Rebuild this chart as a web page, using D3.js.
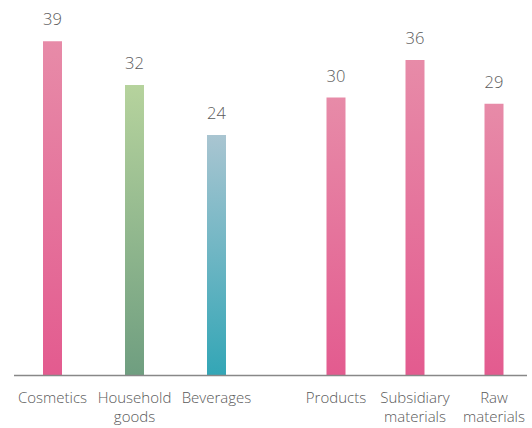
<!DOCTYPE html>
<html>
<head>
<meta charset="utf-8">
<script src="https://cdn.jsdelivr.net/npm/d3@7"></script>
<style>
  body { margin: 0; background: #fff; }
  text { font-family: "Open Sans", "Noto Sans", sans-serif; font-weight: 300; }
</style>
</head>
<body>
<div id="chart"></div>
<script>
// data
var groupA = ["Cosmetics", "Household\ngoods", "Beverages"];
var valuesA = [39, 32, 24];
var groupB = ["Products", "Subsidiary\nmaterials", "Raw\nmaterials"];
var valuesB = [30, 36, 29];
var gradA = [["#e78ba8", "#e35b8f"], ["#b6d39d", "#6f9e80"], ["#a9c5d1", "#33a6b6"]];
var gradB = [["#e78ba8", "#e35b8f"], ["#e78ba8", "#e35b8f"], ["#e78ba8", "#e35b8f"]];

var w = 532, h = 428;
var baseY = 375;

var svg = d3.select("#chart").append("svg")
  .attr("width", w)
  .attr("height", h);

// axis does not start at zero in the original
var y = d3.scaleLinear().domain([-14.4, 45]).range([baseY, baseY - 6.25 * 59.4]);

var xA = d3.scaleBand().domain(groupA).range([11.5, 257.5]).paddingInner(0.77).paddingOuter(0.385);
var xB = d3.scaleBand().domain(groupB).range([296.5, 533.5]).paddingInner(0.76).paddingOuter(0.38);

var defs = svg.append("defs");

function drawGroup(cats, vals, grads, x, key) {
  var rows = cats.map(function(c, i) { return {cat: c, v: vals[i], g: grads[i], id: key + i}; });

  rows.forEach(function(d) {
    var lg = defs.append("linearGradient").attr("id", d.id)
      .attr("x1", 0).attr("y1", 0).attr("x2", 0).attr("y2", 1);
    lg.append("stop").attr("offset", "0%").attr("stop-color", d.g[0]);
    lg.append("stop").attr("offset", "100%").attr("stop-color", d.g[1]);
  });

  var bw = 19;
  svg.selectAll(".bar" + key)
    .data(rows)
    .enter()
    .append("rect")
    .attr("x", function(d) { return x(d.cat) + x.bandwidth() / 2 - bw / 2; })
    .attr("y", function(d) { return y(d.v); })
    .attr("width", bw)
    .attr("height", function(d) { return baseY - y(d.v); })
    .attr("fill", function(d) { return "url(#" + d.id + ")"; });

  svg.selectAll(".val" + key)
    .data(rows)
    .enter()
    .append("text")
    .attr("x", function(d) { return x(d.cat) + x.bandwidth() / 2; })
    .attr("y", function(d) { return y(d.v) - 16; })
    .attr("text-anchor", "middle")
    .attr("font-size", 16.5)
    .attr("fill", "#5a5a5a")
    .text(function(d) { return d.v; });

  var lbl = svg.selectAll(".lbl" + key)
    .data(rows)
    .enter()
    .append("text")
    .attr("text-anchor", "middle")
    .attr("font-size", 15)
    .attr("fill", "#595959");
  lbl.each(function(d) {
    var t = d3.select(this);
    d.cat.split("\n").forEach(function(line, i) {
      t.append("tspan")
        .attr("x", x(d.cat) + x.bandwidth() / 2)
        .attr("y", 402.5 + i * 19)
        .text(line);
    });
  });
}

drawGroup(groupA, valuesA, gradA, xA, "a");
drawGroup(groupB, valuesB, gradB, xB, "b");

svg.append("line")
  .attr("x1", 14).attr("x2", 527)
  .attr("y1", baseY + 0.5).attr("y2", baseY + 0.5)
  .attr("stroke", "#888")
  .attr("stroke-width", 1.5);
</script>
</body>
</html>
